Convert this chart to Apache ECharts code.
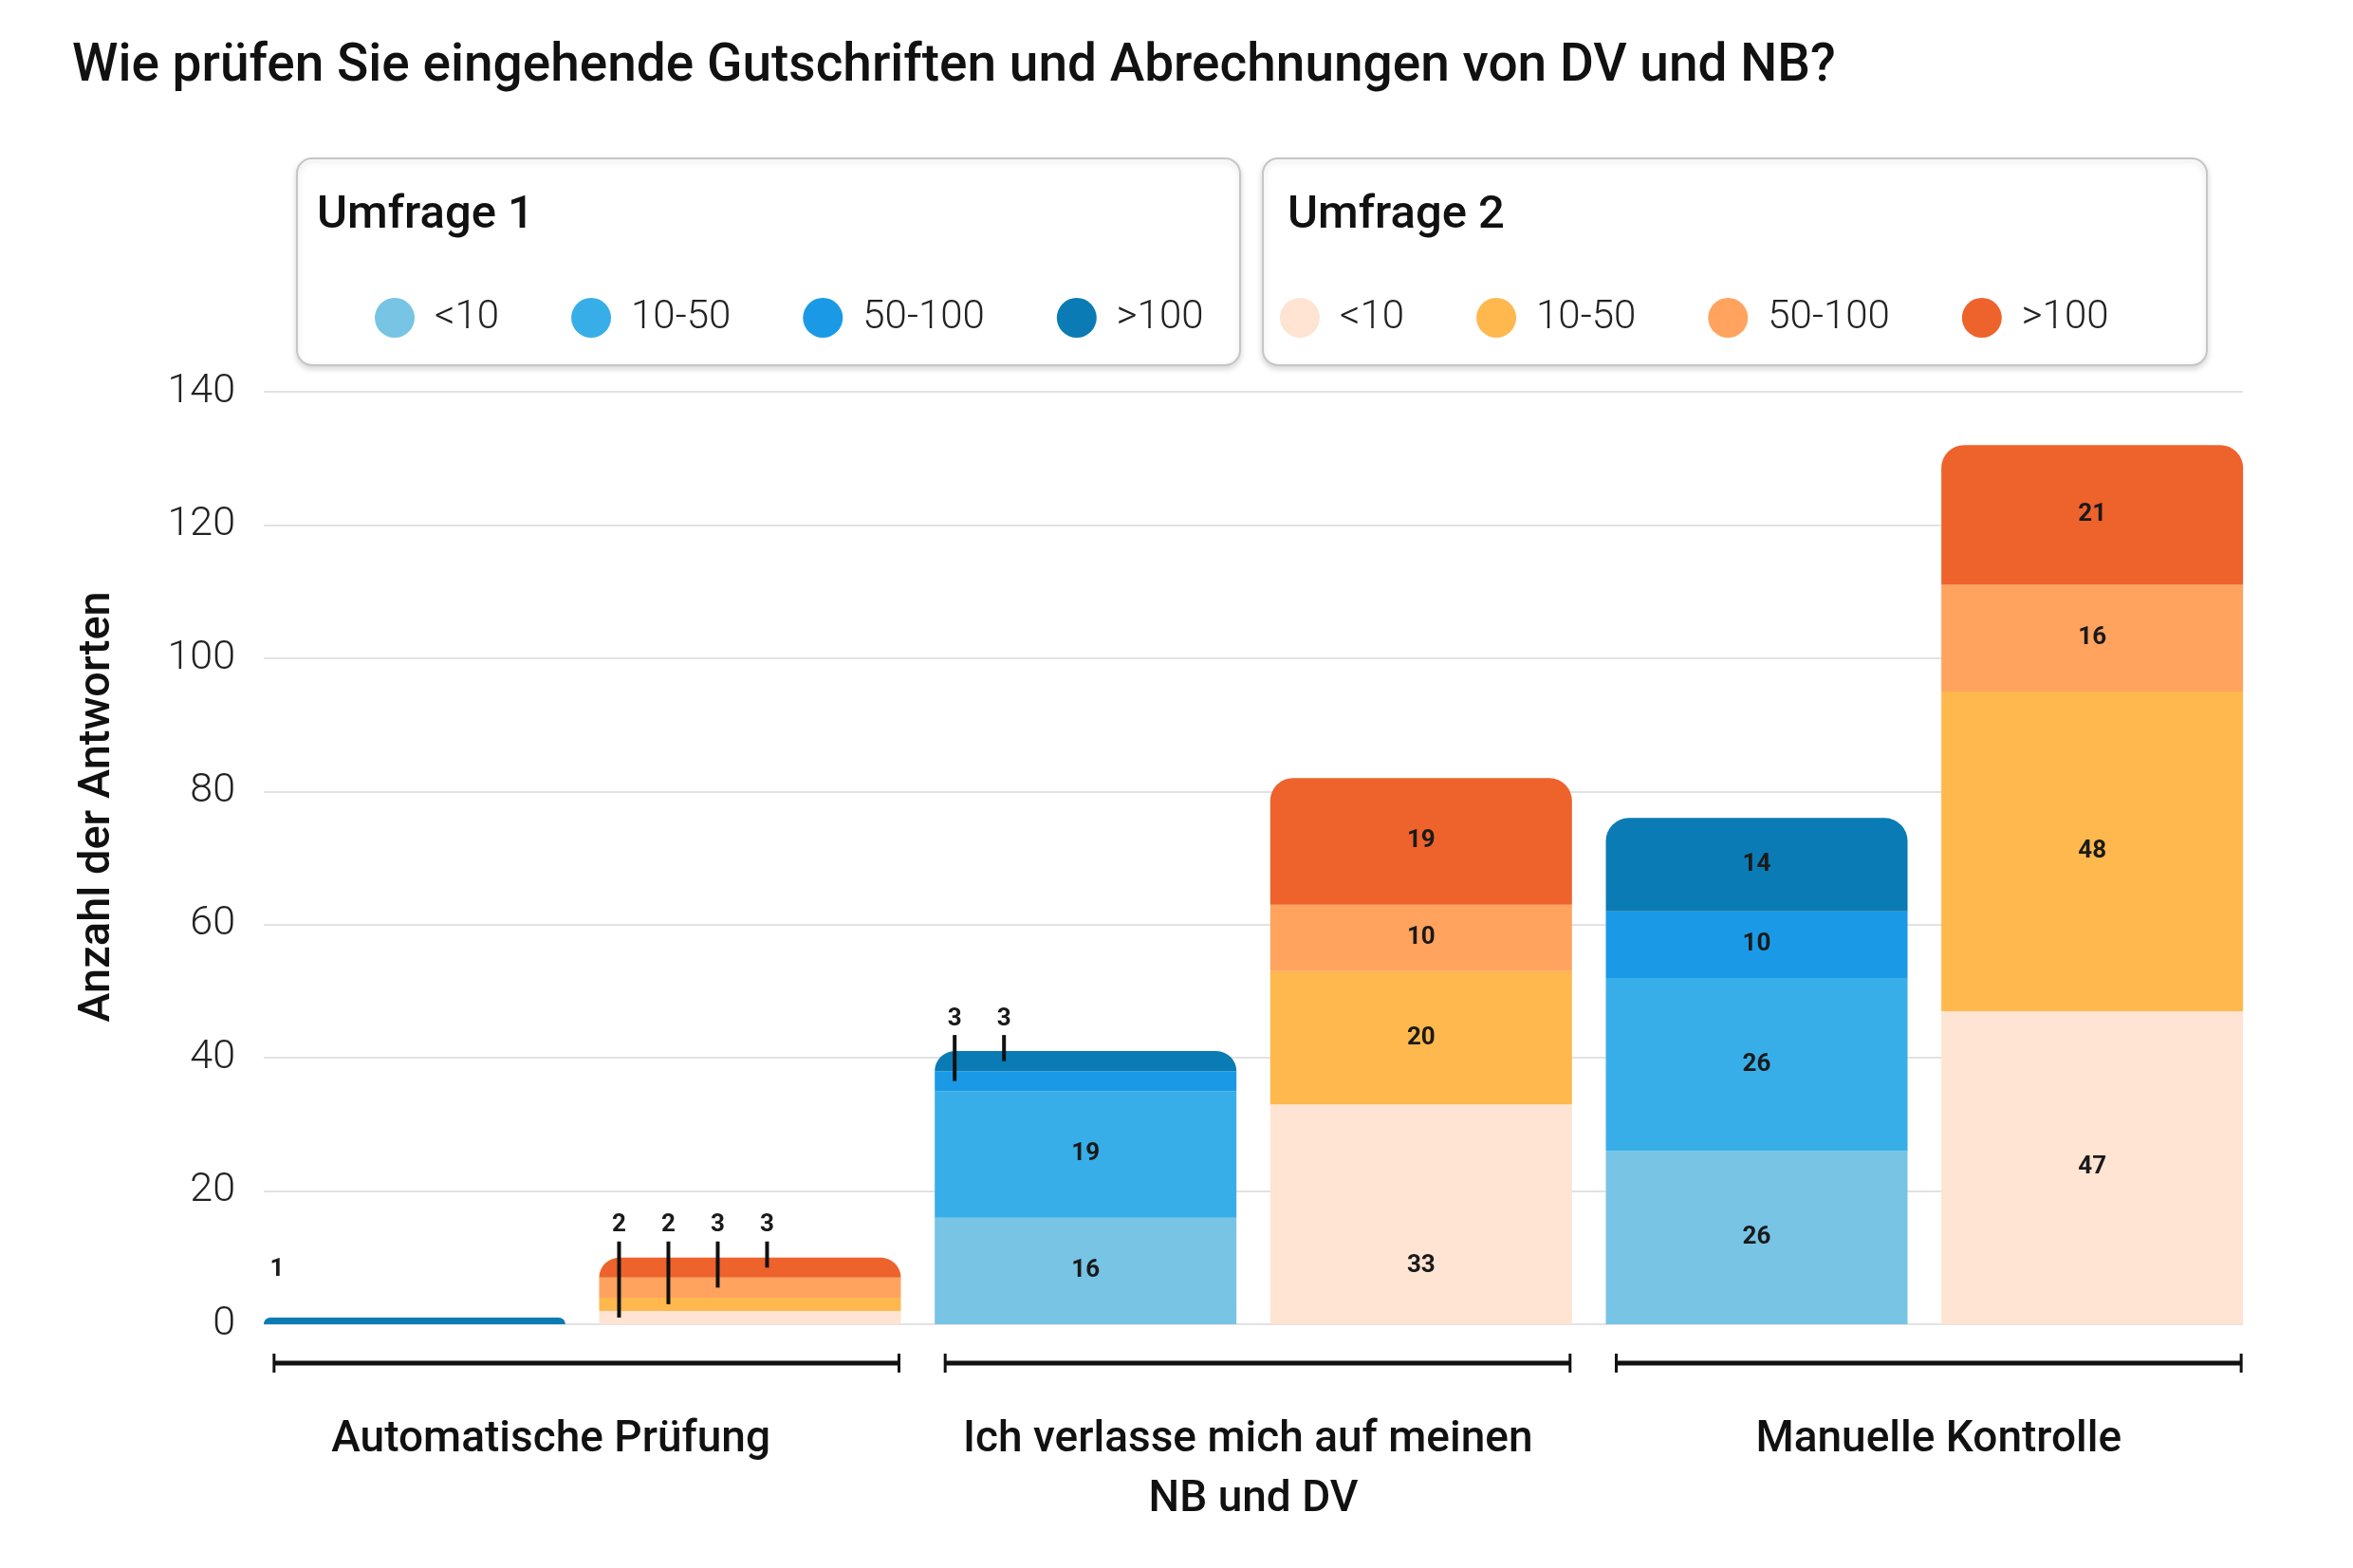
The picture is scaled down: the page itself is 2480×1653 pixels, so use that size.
<!DOCTYPE html>
<html><head><meta charset="utf-8">
<script src="https://cdn.jsdelivr.net/npm/echarts@6/dist/echarts.min.js"></script>
<style>html,body{margin:0;padding:0;background:#fff}#c{width:2480px;height:1653px}</style>
</head><body><div id="c"></div>
<script>
// ---- data ----
const categories = ['Automatische Prüfung', 'Ich verlasse mich auf meinen NB und DV', 'Manuelle Kontrolle'];
const groups = ['<10', '10-50', '50-100', '>100'];
const surveyNames = ['Umfrage 1', 'Umfrage 2'];
const umfrage1_lt10   = [0, 16, 26];
const umfrage1_10_50  = [0, 19, 26];
const umfrage1_50_100 = [0, 3, 10];
const umfrage1_gt100  = [1, 3, 14];
const umfrage2_lt10   = [2, 33, 47];
const umfrage2_10_50  = [2, 20, 48];
const umfrage2_50_100 = [3, 10, 16];
const umfrage2_gt100  = [3, 19, 21];
const yMin = 0, yMax = 140, yInterval = 20;
const titleText = 'Wie prüfen Sie eingehende Gutschriften und Abrechnungen von DV und NB?';
const yAxisName = 'Anzahl der Antworten';

// ---- styling ----
const FONT = 'Roboto';
const colors = [
  ['#77C4E4', '#38AEE8', '#1A9AE6', '#0A7BB4'],
  ['#FFE3D3', '#FFB84D', '#FFA35E', '#EE622B']
];
const SMALL = 5;
const CAT_GAP = 0.0505, BAR_GAP = 0.112;
const surveyValues = [
  [umfrage1_lt10, umfrage1_10_50, umfrage1_50_100, umfrage1_gt100],
  [umfrage2_lt10, umfrage2_10_50, umfrage2_50_100, umfrage2_gt100]
];

const chart = echarts.init(document.getElementById('c'), null, {renderer: 'canvas'});

const barSeries = [];
surveyValues.forEach((vals, s) => vals.forEach((arr, i) => {
  barSeries.push({
    type: 'bar',
    name: surveyNames[s] + ': ' + groups[i],
    stack: 'u' + s,
    xAxisIndex: 1, yAxisIndex: 1,
    barCategoryGap: (CAT_GAP * 100) + '%',
    barGap: (BAR_GAP * 100) + '%',
    itemStyle: {color: colors[s][i], borderRadius: i === groups.length - 1 ? [24, 24, 0, 0] : 0},
    label: {
      show: true, position: 'inside',
      formatter: p => (p.value >= SMALL ? String(p.value) : ''),
      fontFamily: FONT, fontSize: 26, fontWeight: 'bold', color: '#1a1a1a'
    },
    emphasis: {disabled: true},
    data: arr.map((v, c) => (s === 1 && i === 0 && c === 1) ? {value: v, label: {offset: [0, 54]}} : v),
    z: 2
  });
}));

// small values shown outside with leader lines
const smallData = [];
surveyValues.forEach((vals, s) => categories.forEach((_, c) => {
  const total = vals.reduce((a, arr) => a + arr[c], 0);
  const smallIdx = vals.map((arr, i) => i).filter(i => vals[i][c] > 0 && vals[i][c] < SMALL);
  let base = 0;
  vals.forEach((arr, i) => {
    const v = arr[c];
    const k = smallIdx.indexOf(i);
    if (k >= 0) smallData.push([c, s, k, v, base, total, smallIdx.length]);
    base += v;
  });
}));

function barGeom(api, c, s) {
  const center = api.coord([c, 0]);
  const band = api.size([1, 0])[0];
  const bw = band * (1 - CAT_GAP) / (2 + BAR_GAP);
  const groupW = bw * (2 + BAR_GAP);
  const groupLeft = center[0] - groupW / 2;
  return {left: groupLeft + s * bw * (1 + BAR_GAP), bw, groupLeft, groupRight: groupLeft + groupW, base: center[1]};
}

const smallLabelSeries = {
  type: 'custom', xAxisIndex: 1, yAxisIndex: 1, z: 10, silent: true,
  encode: {x: 0, y: 5},
  data: smallData,
  renderItem: (params, api) => {
    const c = api.value(0), s = api.value(1), k = api.value(2), v = api.value(3),
          base = api.value(4), total = api.value(5), n = api.value(6);
    const g = barGeom(api, c, s);
    const topY = api.coord([c, total])[1];
    const midY = api.coord([c, base + v / 2])[1];
    const st = {text: String(v), fill: '#1a1a1a', fontSize: 26, fontWeight: 'bold', fontFamily: FONT, align: 'center', verticalAlign: 'middle'};
    if (n === 1) return {type: 'text', x: g.left + 14, y: topY - 50, style: st};
    const x = g.left + 21 + 52 * k;
    return {type: 'group', children: [
      {type: 'text', x: x, y: topY - 34, style: st},
      {type: 'line', shape: {x1: x, y1: topY - 17, x2: x, y2: midY}, style: {stroke: '#111', lineWidth: 4}}
    ]};
  }
};

const bracketSeries = {
  type: 'custom', xAxisIndex: 1, yAxisIndex: 1, z: 10, silent: true,
  encode: {x: 0, y: 1},
  data: categories.map((_, c) => [c, 0]),
  renderItem: (params, api) => {
    const c = api.value(0);
    const g = barGeom(api, c, 0);
    const y = g.base + 41;
    const x1 = g.groupLeft + 11, x2 = g.groupRight - 2;
    const st = {stroke: '#111', lineWidth: 5};
    return {type: 'group', children: [
      {type: 'line', shape: {x1: x1, y1: y, x2: x2, y2: y}, style: st},
      {type: 'line', shape: {x1: x1, y1: y - 10, x2: x1, y2: y + 10}, style: {stroke: '#111', lineWidth: 3}},
      {type: 'line', shape: {x1: x2, y1: y - 10, x2: x2, y2: y + 10}, style: {stroke: '#111', lineWidth: 3}}
    ]};
  }
};

const catLabelPadding = [[0, 66, 0, 0], [0, 0, 0, 0], [0, 0, 0, 30]];

const boxStyle = {fill: '#fff', stroke: '#c6c6c6', lineWidth: 2, shadowBlur: 6, shadowOffsetY: 3, shadowColor: 'rgba(0,0,0,0.15)'};

chart.setOption({
  animation: false,
  backgroundColor: '#fff',
  title: [
    {text: titleText, left: 76, top: 44, padding: 0,
     textStyle: {fontFamily: FONT, fontSize: 55, fontWeight: 500, color: '#111'}},
    {text: surveyNames[0], left: 334, top: 203, padding: 0,
     textStyle: {fontFamily: FONT, fontSize: 49, fontWeight: 500, color: '#111'}},
    {text: surveyNames[1], left: 1357, top: 203, padding: 0,
     textStyle: {fontFamily: FONT, fontSize: 49, fontWeight: 500, color: '#111'}}
  ],
  graphic: [
    {type: 'rect', left: 312, top: 166, z: 0, shape: {width: 994, height: 218, r: 16}, style: boxStyle},
    {type: 'rect', left: 1330, top: 166, z: 0, shape: {width: 995, height: 218, r: 16}, style: boxStyle}
  ],
  legend: surveyNames.map((sn, s) => ({
    data: groups.map(g => sn + ': ' + g),
    left: [395, 1349][s], top: 314, orient: 'horizontal',
    icon: 'circle', itemWidth: 42, itemHeight: 42, itemGap: 76, padding: 0,
    selectedMode: false, z: 5,
    formatter: name => name.split(': ')[1],
    textStyle: {fontFamily: FONT, fontSize: 42, fontWeight: 300, color: '#222', padding: [0, 0, 0, 16]}
  })),
  grid: [
    {left: 278, right: 116, top: 413, bottom: 257},
    {left: 260, right: 98, top: 413, bottom: 257}
  ],
  xAxis: [
    {gridIndex: 0, type: 'category', data: categories, show: false},
    {gridIndex: 1, type: 'category',
     data: categories.map((cat, c) => ({value: cat, textStyle: {padding: catLabelPadding[c]}})),
     axisLine: {show: false}, axisTick: {show: false},
     axisLabel: {interval: 0, margin: 91, fontFamily: FONT, fontSize: 46, fontWeight: 500, color: '#111',
                 lineHeight: 63, width: 660, overflow: 'break'}}
  ],
  yAxis: [
    {gridIndex: 0, type: 'value', min: yMin, max: yMax, interval: yInterval,
     axisLine: {show: false}, axisTick: {show: false},
     axisLabel: {margin: 30, fontFamily: FONT, fontSize: 43, fontWeight: 300, color: '#222'},
     splitLine: {lineStyle: {color: '#e2e2e2', width: 2}},
     name: yAxisName, nameLocation: 'middle', nameGap: 151, nameRotate: 90,
     nameTextStyle: {fontFamily: FONT, fontSize: 47, fontWeight: 500, color: '#111', padding: [0, 0, 0, 108]}},
    {gridIndex: 1, type: 'value', min: yMin, max: yMax, interval: yInterval, show: false}
  ],
  series: barSeries.concat([smallLabelSeries, bracketSeries])
});
</script></body></html>
